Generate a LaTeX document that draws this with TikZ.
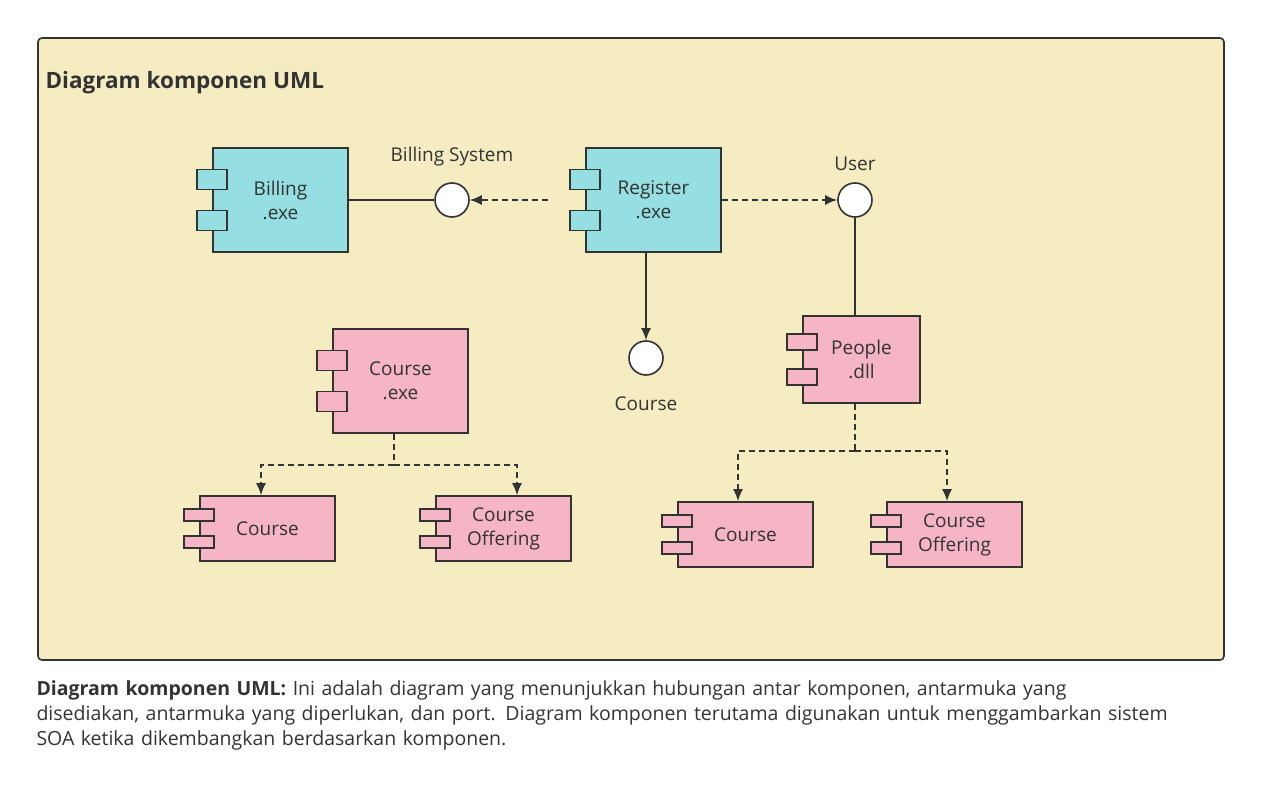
\documentclass[tikz,border=0pt]{standalone}
\usepackage{fontspec}
\setmainfont{Open Sans}
\usetikzlibrary{arrows.meta, positioning, calc}
\definecolor{frameback}{HTML}{F5ECC2}
\definecolor{edgegray}{HTML}{333333}
\definecolor{cyancomp}{HTML}{95DFE2}
\definecolor{pinkcomp}{HTML}{F5B5C5}
\tikzset{
  comp/.style={draw=edgegray, line width=1.6pt, align=center, font=\fontsize{19}{24}\selectfont, text=edgegray},
  tab/.style={draw=edgegray, line width=1.6pt, minimum width=30pt, inner sep=0pt},
  iface/.style={draw=edgegray, line width=1.6pt, fill=white, circle, minimum size=34pt, inner sep=0pt},
  conn/.style={draw=edgegray, line width=1.6pt},
  dep/.style={draw=edgegray, line width=1.6pt, dash pattern=on 6pt off 4pt, -{Latex[length=12pt,width=10pt]}},
  lbl/.style={text=edgegray, font=\fontsize{19}{24}\selectfont}
}
% tabs on the left side of a component
\newcommand\comptabs[4]{%
  \node[tab, fill=#2, minimum height=#4] at ($(#1.west)+(0,#3)$) {};
  \node[tab, fill=#2, minimum height=#4] at ($(#1.west)-(0,#3)$) {};}
\begin{document}
\begin{tikzpicture}[x=1pt, y=-1pt]
  \useasboundingbox (0,0) rectangle (1261,789);
  \node (frame) [draw=edgegray, line width=1.6pt, fill=frameback, rounded corners=4pt, minimum width=1186pt, minimum height=622pt, inner sep=0pt] at (631,349) {};
  \node (title) [anchor=west, text=edgegray, font=\fontsize{22.5}{27}\selectfont\bfseries] at (42,83) {Diagram komponen UML};

  % top row
  \node (billing) [comp, fill=cyancomp, minimum width=135pt, minimum height=104pt] at (280.5,200) {Billing\\.exe};
  \comptabs{billing}{cyancomp}{20.5}{20pt}
  \node (register) [comp, fill=cyancomp, minimum width=135pt, minimum height=104pt] at (653.5,200) {Register\\.exe};
  \comptabs{register}{cyancomp}{20.5}{20pt}
  \node (billsys) [iface] at (452,200) {};
  \node (billsys label) [lbl, above=13pt of billsys] {Billing System};
  \node (user) [iface] at (855,200) {};
  \node (user label) [lbl, above=8pt of user] {User};
  \node (course if) [iface] at (646,358) {};
  \node (course if label) [lbl, below=17pt of course if] {Course};

  % middle row
  \node (courseexe) [comp, fill=pinkcomp, minimum width=135pt, minimum height=104pt] at (400.5,381) {Course\\.exe};
  \comptabs{courseexe}{pinkcomp}{20.5}{20pt}
  \node (people) [comp, fill=pinkcomp, minimum width=117pt, minimum height=87pt] at (861.5,359.5) {People\\.dll};
  \comptabs{people}{pinkcomp}{17.5}{16pt}

  % bottom row
  \node (course l) [comp, fill=pinkcomp, minimum width=135pt, minimum height=65pt] at (267.5,528.5) {Course};
  \comptabs{course l}{pinkcomp}{13.5}{12pt}
  \node (offer l) [comp, fill=pinkcomp, minimum width=135pt, minimum height=65pt] at (503.5,528.5) {Course\\Offering};
  \comptabs{offer l}{pinkcomp}{13.5}{12pt}
  \node (course r) [comp, fill=pinkcomp, minimum width=135pt, minimum height=65pt] at (745.5,534.5) {Course};
  \comptabs{course r}{pinkcomp}{13.5}{12pt}
  \node (offer r) [comp, fill=pinkcomp, minimum width=135pt, minimum height=65pt] at (954.5,534.5) {Course\\Offering};
  \comptabs{offer r}{pinkcomp}{13.5}{12pt}

  % connectors
  \coordinate (req bill) at (548,200);
  \draw[conn] (billing.east) -- (billsys);
  \draw[dep] (req bill) -- (billsys);
  \draw[dep] (register.east) -- (user);
  \draw[conn] (user) -- (people.north -| user);
  \draw[conn, -{Latex[length=12pt,width=10pt]}] (register.south -| course if) -- (course if);
  \coordinate (split l) at (394,465);
  \draw[conn, dash pattern=on 6pt off 4pt] (courseexe.south -| split l) -- (split l);
  \draw[dep] (split l) -| (course l.north -| 261,0);
  \draw[dep] (split l) -| (offer l.north -| 517,0);
  \coordinate (split r) at (855,451);
  \draw[conn, dash pattern=on 6pt off 4pt] (people.south -| split r) -- (split r);
  \draw[dep] (split r) -| (course r.north -| 738,0);
  \draw[dep] (split r) -| (offer r.north -| 947,0);

  % caption
  \node (caption) [anchor=north west, text width=1200pt, align=left, text=edgegray, font=\fontsize{19.5}{25}\selectfont] at (33,677) {\textbf{Diagram komponen UML:} Ini adalah diagram yang menunjukkan hubungan antar komponen, antarmuka yang\\disediakan, antarmuka yang diperlukan, dan port. Diagram komponen terutama digunakan untuk menggambarkan sistem\\SOA ketika dikembangkan berdasarkan komponen.};
\end{tikzpicture}
\end{document}
